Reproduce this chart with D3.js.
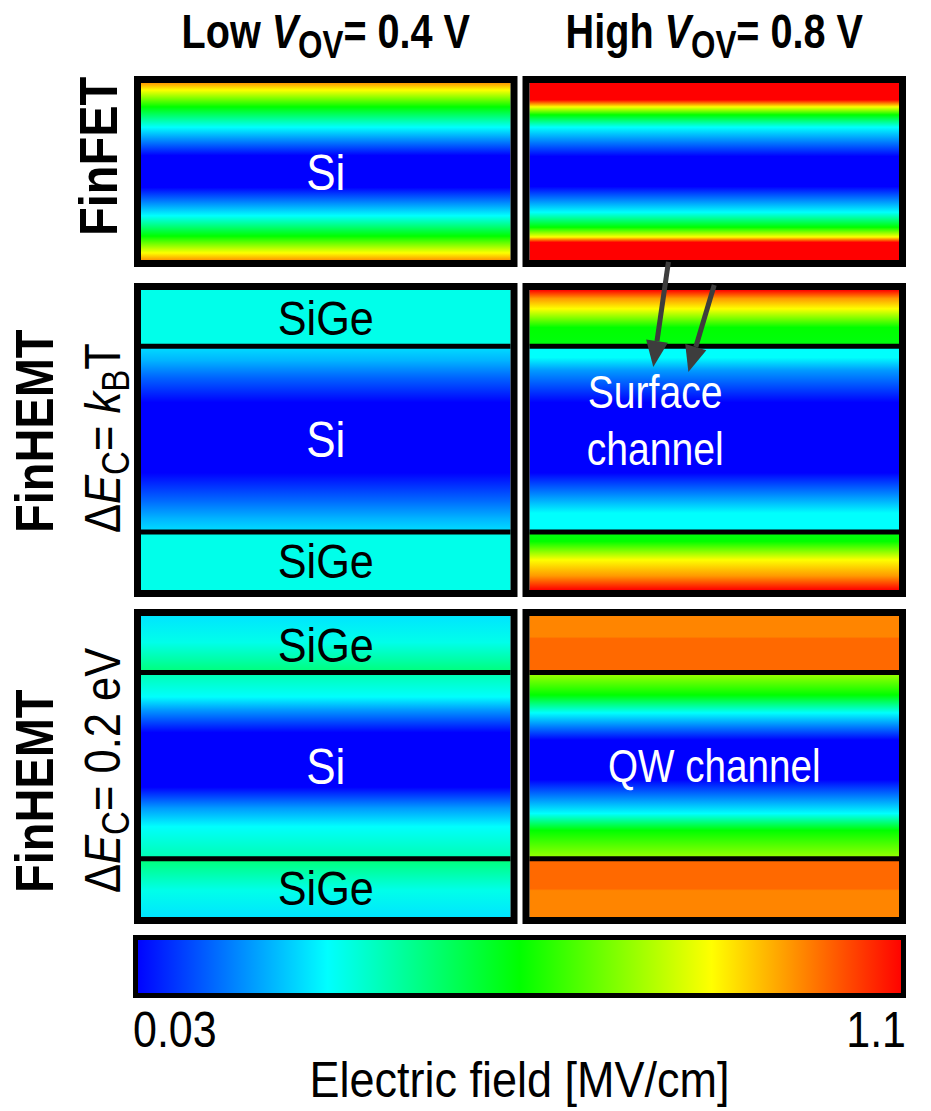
<!DOCTYPE html>
<html>
<head>
<meta charset="utf-8">
<script src="https://cdn.jsdelivr.net/npm/d3@7/dist/d3.min.js"></script>
<style>
  body { margin: 0; background: #fff; }
  svg { display: block; }
</style>
</head>
<body>
<div class="chart"></div>
<script>
let d3 = window.d3;

/* ==== DATA: field profiles [depth, E in MV/cm] ===== */

const columnKeys = ['low', 'high'];
const columnTitles = [['Low ', 'V', 'OV', '= 0.4 V'], ['High ', 'V', 'OV', '= 0.8 V']];

const finfetEdges = [0, 10];
const hemtEdges = [0, 3, 12.9, 16];
const hemtLayerNames = ['SiGe', 'Si', 'SiGe'];

const finfetLow = [
    [[0, 0.94], [0.4, 0.83], [1.35, 0.565], [2.5, 0.30], [4.1, 0.03], [5.9, 0.03], [7.5, 0.30], [8.65, 0.565], [9.6, 0.83], [10, 0.94]]
];
const finfetHigh = [
    [[0, 1.1], [0.95, 1.1], [1.35, 0.83], [1.8, 0.565], [2.5, 0.30], [4.15, 0.03], [5.85, 0.03], [7.3, 0.30], [8.15, 0.565], [8.7, 0.83], [9.0, 1.1], [10, 1.1]]
];

const hemtKTLow = [
    [[0, 0.32], [3, 0.32]],
    [[3, 0.265], [3.75, 0.22], [4.65, 0.137], [6.0, 0.03], [9.75, 0.03], [11.2, 0.137], [12.2, 0.22], [12.9, 0.265]],
    [[12.9, 0.32], [16, 0.32]]
];
const hemtKTHigh = [
    [[0, 1.1], [0.45, 0.94], [1.0, 0.83], [1.5, 0.70], [2.0, 0.565], [3, 0.55]],
    [[3, 0.30], [3.6, 0.30], [4.3, 0.19], [6.0, 0.03], [9.75, 0.03], [10.8, 0.16], [11.9, 0.30], [12.9, 0.30]],
    [[12.9, 0.55], [13.4, 0.565], [14.4, 0.83], [15.25, 0.94], [16, 1.1]]
];

const hemt02Low = [
    [[0, 0.27], [1.4, 0.32], [3, 0.44]],
    [[3, 0.38], [4.3, 0.30], [5.0, 0.19], [6.2, 0.03], [9.1, 0.03], [10.2, 0.19], [11.2, 0.30], [12.9, 0.38]],
    [[12.9, 0.44], [14.6, 0.32], [16, 0.27]]
];
const hemt02High = [
    [[0, 0.96], [1.1, 0.96], [1.2, 0.99], [3, 0.99]],
    [[3, 0.74], [4.2, 0.565], [5.15, 0.30], [6.6, 0.03], [8.7, 0.03], [10.5, 0.30], [11.4, 0.565], [12.9, 0.73]],
    [[12.9, 0.99], [14.5, 0.99], [14.6, 0.96], [16, 0.96]]
];

const fieldRange = [0.03, 1.1];
const jetStops = [0.03, 0.2975, 0.565, 0.8325, 1.1];
const jetColors = ['#0000ff', '#00ffff', '#00ff00', '#ffff00', '#ff0000'];
const colorTickLabels = ['0.03', '1.1'];
const colorTitle = 'Electric field [MV/cm]';

/* ==== SETUP ===== */

let w = 931, h = 1111;
let svg = d3.select('.chart').append('svg').attr('width', w).attr('height', h)
    .style('font-family', '"Liberation Sans", Arial, sans-serif');
let defs = svg.append('defs');

let color = d3.scaleLinear().domain(jetStops).range(jetColors).clamp(true);

let colX = d3.scaleBand().domain(columnKeys).range([134, 906]).paddingInner(5 / 388.5);
let rowBoxes = [[76, 267], [283, 597], [609, 924]];
let border = 7;
let gradCount = 0;

// narrow-font look: squeeze text horizontally around its anchor
function txt(x, y, squeeze, rot) {
    return svg.append('g')
        .attr('transform', 'translate(' + x + ',' + y + ')' + (rot ? ' rotate(' + rot + ')' : '') + ' scale(' + squeeze + ',1)')
        .append('text');
}

function drawPanel(col, row, edges, layers) {
    let x0 = colX(col), bw = colX.bandwidth();
    let y0 = rowBoxes[row][0], y1 = rowBoxes[row][1];
    let ix0 = x0 + border, ix1 = x0 + bw - border;
    let depth = d3.scaleLinear()
        .domain([edges[0], edges[edges.length - 1]])
        .range([y0 + border, y1 - border]);
    let across = d3.scaleLinear().domain([0, 1]).range([ix0, ix1]);

    layers.forEach(function (prof, i) {
        let id = 'grad-' + (gradCount++);
        let lo = edges[i], hi = edges[i + 1];
        let grad = defs.append('linearGradient')
            .attr('id', id)
            .attr('gradientUnits', 'userSpaceOnUse')
            .attr('x1', 0).attr('x2', 0)
            .attr('y1', depth(lo)).attr('y2', depth(hi));
        grad.selectAll('stop')
            .data(prof)
            .enter().append('stop')
            .attr('offset', function (d) { return (d[0] - lo) / (hi - lo); })
            .attr('stop-color', function (d) { return color(d[1]); });
        svg.append('rect')
            .attr('x', ix0)
            .attr('y', depth(lo))
            .attr('width', ix1 - ix0)
            .attr('height', depth(hi) - depth(lo))
            .attr('fill', 'url(#' + id + ')');
    });

    // interfaces between layers
    svg.selectAll(null)
        .data(edges.slice(1, -1))
        .enter().append('line')
        .attr('x1', ix0).attr('x2', ix1)
        .attr('y1', depth).attr('y2', depth)
        .attr('stroke', '#000')
        .attr('stroke-width', 5);

    svg.append('rect')
        .attr('x', x0 + border / 2)
        .attr('y', y0 + border / 2)
        .attr('width', bw - border)
        .attr('height', y1 - y0 - border)
        .attr('fill', 'none')
        .attr('stroke', '#000')
        .attr('stroke-width', border);

    return { depth: depth, across: across, edges: edges };
}

function label(p, frac, d, s, size, fill, squeeze) {
    txt(p.across(frac), p.depth(d), squeeze)
        .attr('dy', '0.36em')
        .attr('text-anchor', 'middle')
        .attr('font-size', size)
        .attr('fill', fill)
        .text(s);
}

/* ==== PANELS ===== */

let p1 = drawPanel('low', 0, finfetEdges, finfetLow);
let p2 = drawPanel('high', 0, finfetEdges, finfetHigh);
let p3 = drawPanel('low', 1, hemtEdges, hemtKTLow);
let p4 = drawPanel('high', 1, hemtEdges, hemtKTHigh);
let p5 = drawPanel('low', 2, hemtEdges, hemt02Low);
let p6 = drawPanel('high', 2, hemtEdges, hemt02High);

label(p1, 0.5, 5, 'Si', 50, '#fff', 0.88);
[p3, p5].forEach(function (p) {
    hemtLayerNames.forEach(function (name, i) {
        let si = name === 'Si';
        label(p, 0.5, (hemtEdges[i] + hemtEdges[i + 1]) / 2, name, si ? 50 : 48, si ? '#fff' : '#000', si ? 0.88 : 0.9);
    });
});
label(p6, 0.5, (hemtEdges[1] + hemtEdges[2]) / 2, 'QW channel', 46, '#fff', 0.84);

['Surface', 'channel'].forEach(function (s, i) {
    txt(p4.across(0.34), p4.depth(i === 0 ? 6.3 : 9.33), 0.85)
        .attr('text-anchor', 'middle')
        .attr('font-size', 46)
        .attr('fill', '#fff')
        .text(s);
});

/* ==== ARROWS to surface channel ===== */

let arrows = [[[0.376, -1.5], [0.335, 4.1]], [[0.50, -0.27], [0.43, 4.37]]];
arrows.forEach(function (a) {
    let sx = p4.across(a[0][0]), sy = p4.depth(a[0][1]);
    let tx = p4.across(a[1][0]), ty = p4.depth(a[1][1]);
    let len = Math.hypot(tx - sx, ty - sy);
    let ux = (tx - sx) / len, uy = (ty - sy) / len;
    let L = 26, W = 11;
    let bx = tx - ux * L, by = ty - uy * L;
    svg.append('line')
        .attr('x1', sx).attr('y1', sy)
        .attr('x2', bx).attr('y2', by)
        .attr('stroke', '#3d3d3d')
        .attr('stroke-width', 5);
    svg.append('path')
        .attr('d', 'M' + tx + ',' + ty + 'L' + (bx - uy * W) + ',' + (by + ux * W) + 'L' + (bx + uy * W) + ',' + (by - ux * W) + 'Z')
        .attr('fill', '#3d3d3d');
});

/* ==== COLUMN TITLES ===== */

columnKeys.forEach(function (k, i) {
    let t = txt(colX(k) + colX.bandwidth() / 2, 48, 0.825)
        .attr('text-anchor', 'middle')
        .attr('font-size', 48)
        .attr('font-weight', 'bold');
    let parts = columnTitles[i];
    t.append('tspan').text(parts[0]);
    t.append('tspan').attr('font-style', 'italic').text(parts[1]);
    t.append('tspan').attr('font-size', 38).attr('dy', 10).text(parts[2]);
    t.append('tspan').attr('dy', -10).text(parts[3]);
});

/* ==== ROW LABELS (bottom-aligned, reading upwards) ===== */

function rotLabel(x, y) {
    return txt(x, y, 0.87, -90).attr('text-anchor', 'start');
}

rotLabel(117, 236).attr('font-size', 54).attr('font-weight', 'bold').text('FinFET');
rotLabel(53, 533).attr('font-size', 54).attr('font-weight', 'bold').text('FinHEMT');
rotLabel(53, 893).attr('font-size', 54).attr('font-weight', 'bold').text('FinHEMT');

function deltaE(t, tail) {
    t.attr('font-size', 50);
    t.append('tspan').text('\u0394');
    t.append('tspan').attr('font-style', 'italic').text('E');
    t.append('tspan').attr('font-size', 38).attr('dy', 9).text('C');
    t.append('tspan').attr('dy', -9).text('= ');
    tail(t);
}
deltaE(rotLabel(120, 533), function (t) {
    t.append('tspan').attr('font-style', 'italic').text('k');
    t.append('tspan').attr('font-size', 38).attr('dy', 9).text('B');
    t.append('tspan').attr('dy', -9).text('T');
});
deltaE(rotLabel(120, 893), function (t) {
    t.append('tspan').text('0.2 eV');
});

/* ==== COLOR BAR ===== */

let cb = { x0: 133, x1: 906, y0: 935, y1: 998, b: 5 };
let cbX = d3.scaleLinear().domain(fieldRange).range([cb.x0 + cb.b, cb.x1 - cb.b]);

let cbGrad = defs.append('linearGradient')
    .attr('id', 'cb-grad')
    .attr('x1', '0%').attr('x2', '100%')
    .attr('y1', '0%').attr('y2', '0%');
cbGrad.selectAll('stop')
    .data(jetStops)
    .enter().append('stop')
    .attr('offset', function (d) { return (d - fieldRange[0]) / (fieldRange[1] - fieldRange[0]); })
    .attr('stop-color', function (d) { return color(d); });

svg.append('rect')
    .attr('x', cb.x0 + cb.b / 2)
    .attr('y', cb.y0 + cb.b / 2)
    .attr('width', cb.x1 - cb.x0 - cb.b)
    .attr('height', cb.y1 - cb.y0 - cb.b)
    .attr('fill', 'url(#cb-grad)')
    .attr('stroke', '#000')
    .attr('stroke-width', cb.b);

fieldRange.forEach(function (d, i) {
    txt(cbX(d) + (i === 0 ? -cb.b : cb.b), 1047, 0.86)
        .attr('text-anchor', i === 0 ? 'start' : 'end')
        .attr('font-size', 50)
        .text(colorTickLabels[i]);
});

txt(cbX((fieldRange[0] + fieldRange[1]) / 2), 1097, 0.9)
    .attr('text-anchor', 'middle')
    .attr('font-size', 50)
    .text(colorTitle);
</script>
</body>
</html>
